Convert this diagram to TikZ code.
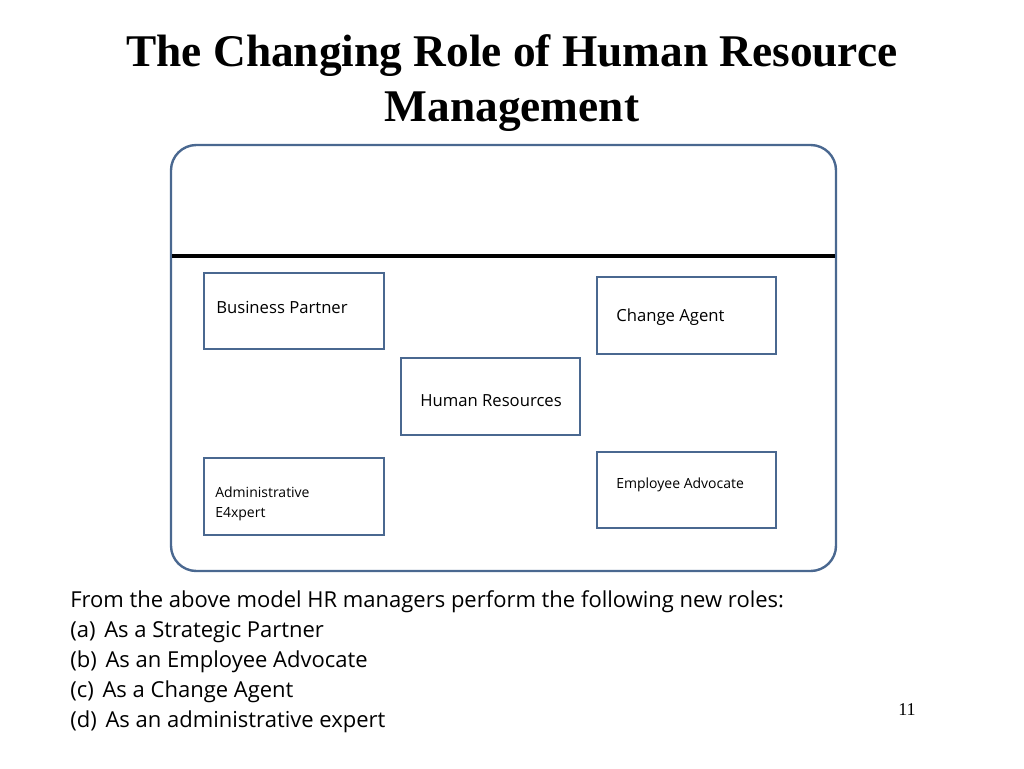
\documentclass[tikz,border=0pt]{standalone}
\usepackage{fontspec}
\setmainfont{Open Sans}
\newfontfamily\serif{Liberation Serif}
\definecolor{bx}{HTML}{4A6890}
\begin{document}
\begin{tikzpicture}[x=0.75pt,y=-0.75pt,
  rb/.style={draw=bx,line width=1.6pt},
  lbl/.style={anchor=west,inner sep=0pt,font=\fontsize{12.5}{14}\selectfont},
  slbl/.style={anchor=west,inner sep=0pt,font=\fontsize{10.5}{15.5}\selectfont,align=left}]
\useasboundingbox (0,0) rectangle (1024,768);
\node[font=\serif\bfseries\fontsize{34}{41}\selectfont,align=center] (title) at (512,83) {The Changing Role of Human Resource\\Management};
\draw[draw=bx,line width=1.8pt,rounded corners=19pt] (171,145) rectangle (836,571);
\coordinate (l1) at (172,256); \coordinate (l2) at (835,256);
\draw[line width=3pt] (l1) -- (l2);
\draw[rb] (204,273) rectangle (384,349);
\draw[rb] (597,277) rectangle (776,354);
\draw[rb] (401,358) rectangle (580,435);
\draw[rb] (204,458) rectangle (384,535);
\draw[rb] (597,452) rectangle (776,528);
\node[lbl] (bp) at (216,307) {Business Partner};
\node[lbl] (ca) at (616,317) {Change Agent};
\node[lbl] (hr) at (420,401) {Human Resources};
\node[slbl] (ae) at (215,504) {Administrative\\E4xpert};
\node[slbl] (ea) at (616,485) {Employee Advocate};
\node[anchor=north west,inner sep=0pt,align=left,font=\fontsize{16.5}{22.5}\selectfont] (txt) at (70,590)
{From the above model HR managers perform the following new roles:\\
(a)\hspace{0.4em}As a Strategic Partner\\
(b)\hspace{0.4em}As an Employee Advocate\\
(c)\hspace{0.4em}As a Change Agent\\
(d)\hspace{0.4em}As an administrative expert};
\node[font=\serif\fontsize{13.5}{16}\selectfont] (num) at (907,710) {11};
\end{tikzpicture}
\end{document}
